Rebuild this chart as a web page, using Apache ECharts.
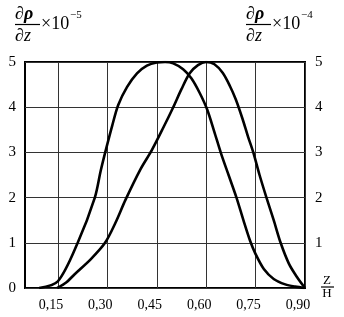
<!DOCTYPE html>
<html><head><meta charset="utf-8">
<script src="https://cdn.jsdelivr.net/npm/echarts@6/dist/echarts.min.js"></script>
<style>html,body{margin:0;padding:0;background:#fff}#c{width:344px;height:317px}</style>
</head><body><div id="c"></div>
<script>
// Tick values and labels
const xTicks = [0.15, 0.30, 0.45, 0.60, 0.75, 0.90];
const xTickLabels = ['0,15', '0,30', '0,45', '0,60', '0,75', '0,90'];
const yTicks = [0, 1, 2, 3, 4, 5];

// Curve peaking near 0.47 (left axis, x10^-5)
const curveAx = [0.093, 0.15, 0.21, 0.262, 0.28, 0.297, 0.315, 0.333, 0.36, 0.39, 0.42, 0.45, 0.475, 0.50, 0.53, 0.555, 0.58, 0.603, 0.625, 0.645, 0.668, 0.692, 0.713, 0.733, 0.75, 0.775, 0.805, 0.84, 0.87, 0.90];
const curveAy = [0, 0.15, 1.0, 2.0, 2.6, 3.1, 3.6, 4.05, 4.45, 4.75, 4.92, 4.99, 5.0, 4.97, 4.84, 4.64, 4.32, 3.95, 3.45, 2.98, 2.5, 2.0, 1.5, 1.05, 0.75, 0.42, 0.2, 0.08, 0.03, 0];

// Curve peaking near 0.60 (right axis, x10^-4)
const curveBx = [0.148, 0.175, 0.20, 0.25, 0.293, 0.325, 0.355, 0.40, 0.435, 0.47, 0.50, 0.525, 0.55, 0.575, 0.60, 0.625, 0.65, 0.672, 0.69, 0.71, 0.727, 0.743, 0.762, 0.783, 0.805, 0.826, 0.851, 0.875, 0.90];
const curveBy = [0, 0.12, 0.3, 0.64, 1.0, 1.45, 1.95, 2.62, 3.05, 3.55, 4.0, 4.4, 4.75, 4.93, 5.0, 4.95, 4.76, 4.47, 4.17, 3.75, 3.35, 3.0, 2.5, 2.0, 1.5, 1.0, 0.54, 0.25, 0];

const SERIF = "'Liberation Serif', 'Times New Roman', serif";
const zip = (xs, ys) => xs.map((x, i) => [x, ys[i]]);

const chart = echarts.init(document.getElementById('c'), null, {renderer: 'canvas'});

function txt(x, y, text, font, align, va) {
  return {type: 'text', x: x, y: y, silent: true,
    style: {text: text, font: font, fill: '#000', align: align || 'left', verticalAlign: va || 'top'}};
}
function bar(x1, x2, y) {
  return {type: 'line', silent: true, shape: {x1: x1, y1: y, x2: x2, y2: y}, style: {stroke: '#000', lineWidth: 1.2}};
}

const yAxisCommon = {
  type: 'value', min: 0, max: 5, interval: 1,
  axisLine: {show: false}, axisTick: {show: false}
};

chart.setOption({
  animation: false,
  backgroundColor: '#fff',
  grid: {left: 25, right: 39, top: 62, bottom: 29, show: true, borderColor: '#000', borderWidth: 2, backgroundColor: 'transparent'},
  xAxis: {
    type: 'value', min: 0.05, max: 0.9,
    axisLine: {show: false},
    axisTick: {show: false, customValues: xTicks},
    splitLine: {show: true, lineStyle: {color: '#333', width: 1}},
    axisLabel: {
      customValues: xTicks,
      fontFamily: SERIF, fontSize: 14, color: '#000', margin: 10,
      padding: [0, 14, 0, 0],
      formatter: v => { const i = xTicks.findIndex(t => Math.abs(t - v) < 1e-6); return i >= 0 ? xTickLabels[i] : ''; }
    }
  },
  yAxis: [
    Object.assign({}, yAxisCommon, {position: 'left',
      splitLine: {show: true, lineStyle: {color: '#333', width: 1}},
      axisLabel: {fontFamily: SERIF, fontSize: 15, color: '#000', margin: 9}}),
    Object.assign({}, yAxisCommon, {position: 'right', splitLine: {show: false},
      axisLabel: {fontFamily: SERIF, fontSize: 15, color: '#000', margin: 10,
        formatter: v => (v === yTicks[0] ? '' : String(v))}})
  ],
  series: [
    {type: 'line', yAxisIndex: 0, data: zip(curveAx, curveAy), showSymbol: false, symbol: 'none', smooth: 0.3,
      lineStyle: {color: '#000', width: 2.6}, z: 5},
    {type: 'line', yAxisIndex: 1, data: zip(curveBx, curveBy), showSymbol: false, symbol: 'none', smooth: 0.3,
      lineStyle: {color: '#000', width: 2.6}, z: 5}
  ],
  graphic: [
    txt(15, 5, '∂ρ', 'italic bold 18px ' + SERIF),
    bar(15, 40, 24.5),
    txt(15, 27, '∂z', 'italic 18px ' + SERIF),
    txt(41, 15, '×10', '18px ' + SERIF),
    txt(70, 10, '−5', '11px ' + SERIF),
    txt(246, 5, '∂ρ', 'italic bold 18px ' + SERIF),
    bar(246, 271, 24.5),
    txt(246, 27, '∂z', 'italic 18px ' + SERIF),
    txt(272, 15, '×10', '18px ' + SERIF),
    txt(301, 10, '−4', '11px ' + SERIF),
    txt(327, 281, 'Z', '13px ' + SERIF, 'center', 'middle'),
    bar(321, 334, 287),
    txt(327, 293.5, 'H', '13px ' + SERIF, 'center', 'middle')
  ]
});
</script></body></html>
